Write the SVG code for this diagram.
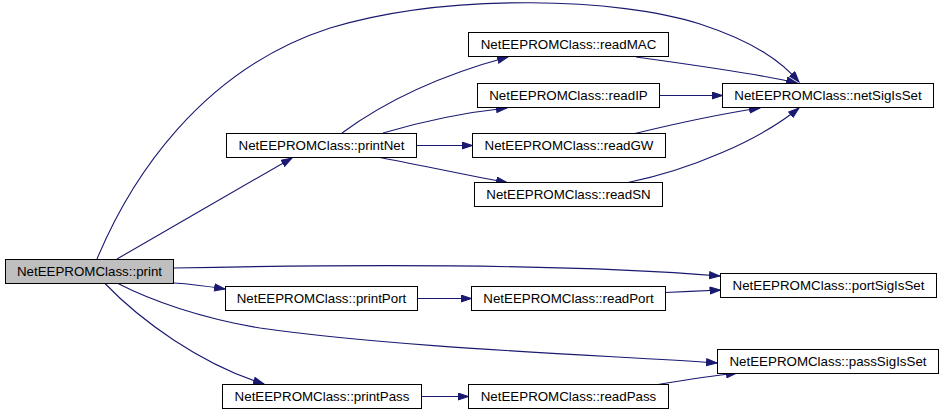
<svg xmlns="http://www.w3.org/2000/svg" width="944" height="418" viewBox="0 0 944 418">
<style>
.node rect{fill:#ffffff;stroke:#000000;stroke-width:1}
.node.sel rect{fill:#bfbfbf}
.node text{font-family:"Liberation Sans",Arial,Helvetica,sans-serif;font-size:13.33px;text-anchor:middle;fill:#000000}
.edges path{fill:none;stroke:#191970;stroke-width:1.1;marker-end:url(#ah)}
</style>
<defs>
<marker id="ah" markerUnits="userSpaceOnUse" markerWidth="12" markerHeight="9" refX="11" refY="4" orient="auto">
<path d="M0.5,0.5 L11,4 L0.5,7.5 z" fill="#191970" stroke="#191970" stroke-width="1"/>
</marker>
</defs>
<rect width="944" height="418" fill="#ffffff"/>
<g class="edges" id="edges">
<path d="M97,259 C130,180 200,70 330,28 C450,-8 620,-2 700,24 C755,42 782,62 799,82"/>
<path d="M117,259 C170,228 240,188 292,158"/>
<path d="M173.5,268 C320,265 560,263 720,276"/>
<path d="M173.5,283 C190,284 206,286 225,289"/>
<path d="M118,283.5 C150,300 200,318 260,328 C400,348 600,355 717,363"/>
<path d="M105,283.5 C140,320 200,364 264,384"/>
<path d="M342,133 C380,105 430,78 508,57"/>
<path d="M383,133 C420,122 460,113 507,108"/>
<path d="M416.5,145.5 L472.5,145.5"/>
<path d="M380,157.5 C420,165 460,174 507,182.5"/>
<path d="M636,57 C700,66 760,74 797,83"/>
<path d="M659.5,95.5 L722.5,95.5"/>
<path d="M635,133.5 C670,125 720,114 760,108"/>
<path d="M628,182.5 C690,170 760,140 799,108"/>
<path d="M417.5,298.5 L471.5,298.5"/>
<path d="M665.5,292.5 C685,291.5 700,291 720.5,290"/>
<path d="M421.5,396.5 L468.5,396.5"/>
<path d="M658,384.5 C685,380 710,376 737,373"/>
</g>
<g class="node sel" id="node-print"><rect x="5.5" y="259.5" width="168" height="24"/><text x="89.5" y="276">NetEEPROMClass::print</text></g>
<g class="node" id="node-printNet"><rect x="226.5" y="133.5" width="190" height="24"/><text x="321.5" y="150">NetEEPROMClass::printNet</text></g>
<g class="node" id="node-printPort"><rect x="225.5" y="286.5" width="192" height="24"/><text x="321.5" y="303">NetEEPROMClass::printPort</text></g>
<g class="node" id="node-printPass"><rect x="222.5" y="384.5" width="199" height="24"/><text x="322" y="401">NetEEPROMClass::printPass</text></g>
<g class="node" id="node-readMAC"><rect x="468.5" y="32.5" width="200" height="24"/><text x="568.5" y="49">NetEEPROMClass::readMAC</text></g>
<g class="node" id="node-readIP"><rect x="477.5" y="83.5" width="182" height="24"/><text x="568.5" y="100">NetEEPROMClass::readIP</text></g>
<g class="node" id="node-readGW"><rect x="472.5" y="133.5" width="193" height="24"/><text x="569" y="150">NetEEPROMClass::readGW</text></g>
<g class="node" id="node-readSN"><rect x="474.5" y="182.5" width="188" height="24"/><text x="568.5" y="199">NetEEPROMClass::readSN</text></g>
<g class="node" id="node-readPort"><rect x="471.5" y="286.5" width="194" height="24"/><text x="568.5" y="303">NetEEPROMClass::readPort</text></g>
<g class="node" id="node-readPass"><rect x="468.5" y="384.5" width="200" height="24"/><text x="568.5" y="401">NetEEPROMClass::readPass</text></g>
<g class="node" id="node-netSigIsSet"><rect x="722.5" y="83.5" width="211" height="24"/><text x="828" y="100">NetEEPROMClass::netSigIsSet</text></g>
<g class="node" id="node-portSigIsSet"><rect x="720.5" y="273.5" width="216" height="24"/><text x="828.5" y="290">NetEEPROMClass::portSigIsSet</text></g>
<g class="node" id="node-passSigIsSet"><rect x="717.5" y="349.5" width="221" height="24"/><text x="828" y="366">NetEEPROMClass::passSigIsSet</text></g>
</svg>
